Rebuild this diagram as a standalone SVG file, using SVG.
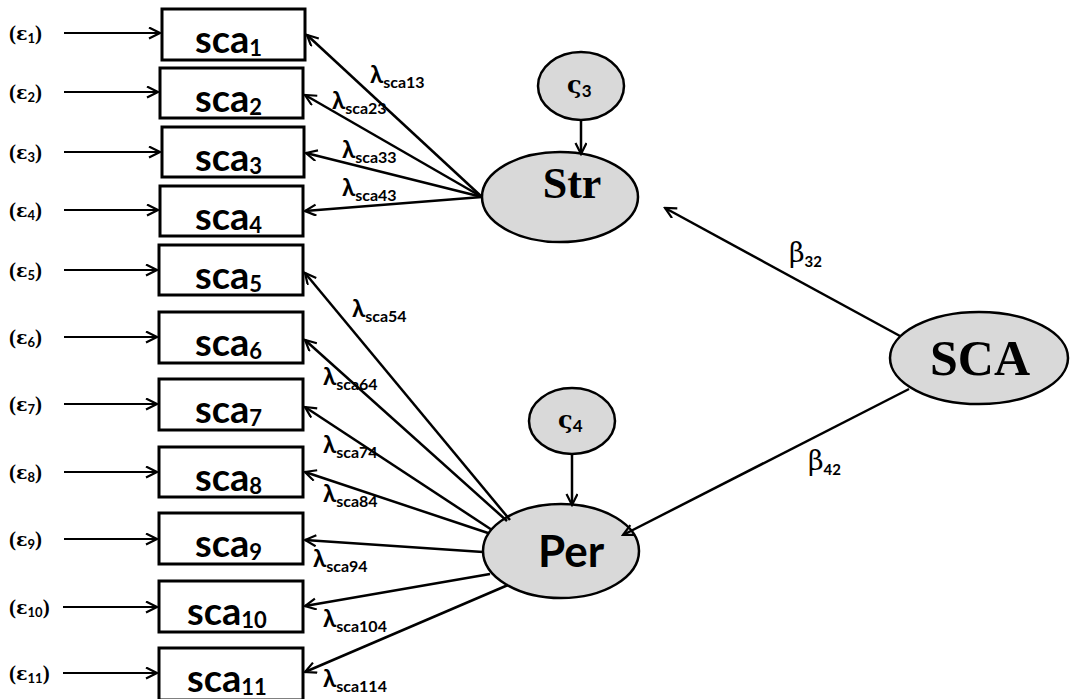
<svg xmlns="http://www.w3.org/2000/svg" width="1070" height="699" viewBox="0 0 1070 699">
  <style>
    .box { fill: #ffffff; stroke: #000; stroke-width: 3; }
    .latent { fill: #d9d9d9; stroke: #000; stroke-width: 2.5; }
    .edge { stroke: #000; stroke-width: 2.5; fill: none; marker-end: url(#arrow); }
    .err { stroke: #000; stroke-width: 2; fill: none; marker-end: url(#arrow); }
    .sans { font-family: Lato, "DejaVu Sans", sans-serif; font-weight: bold; fill: #000; }
    .serif { font-family: "Liberation Serif", "DejaVu Serif", serif; font-weight: bold; fill: #000; }
    .greek { font-family: "DejaVu Serif", serif; font-weight: normal; }
    .greekb { font-family: "DejaVu Serif", serif; font-weight: bold; }
    .ind { font-size: 38px; }
    .lam { font-size: 24px; }
    .eps { font-size: 21px; }
    .epsym { font-family: "DejaVu Serif", serif; font-size: 19px; }
    .epsub { font-family: Lato, "DejaVu Sans", sans-serif; font-size: 13px; }
  </style>
  <defs>
    <marker id="arrow" markerUnits="userSpaceOnUse" markerWidth="14" markerHeight="14" refX="12" refY="6" orient="auto">
      <path d="M1,0.5 L12,6 L1,11.5" fill="none" stroke="#000" stroke-width="2.2"/>
    </marker>
  </defs>
  <rect width="1070" height="699" fill="#ffffff"/>

  <!-- error terms -->
  <g id="errors">
    <text class="serif eps" x="9" y="40">(<tspan class="epsym">ε</tspan><tspan class="epsub" dy="3">1</tspan><tspan dy="-3">)</tspan></text>
    <text class="serif eps" x="9" y="99">(<tspan class="epsym">ε</tspan><tspan class="epsub" dy="3">2</tspan><tspan dy="-3">)</tspan></text>
    <text class="serif eps" x="9" y="159">(<tspan class="epsym">ε</tspan><tspan class="epsub" dy="3">3</tspan><tspan dy="-3">)</tspan></text>
    <text class="serif eps" x="9" y="217">(<tspan class="epsym">ε</tspan><tspan class="epsub" dy="3">4</tspan><tspan dy="-3">)</tspan></text>
    <text class="serif eps" x="9" y="277">(<tspan class="epsym">ε</tspan><tspan class="epsub" dy="3">5</tspan><tspan dy="-3">)</tspan></text>
    <text class="serif eps" x="9" y="344">(<tspan class="epsym">ε</tspan><tspan class="epsub" dy="3">6</tspan><tspan dy="-3">)</tspan></text>
    <text class="serif eps" x="9" y="411">(<tspan class="epsym">ε</tspan><tspan class="epsub" dy="3">7</tspan><tspan dy="-3">)</tspan></text>
    <text class="serif eps" x="9" y="479">(<tspan class="epsym">ε</tspan><tspan class="epsub" dy="3">8</tspan><tspan dy="-3">)</tspan></text>
    <text class="serif eps" x="9" y="546">(<tspan class="epsym">ε</tspan><tspan class="epsub" dy="3">9</tspan><tspan dy="-3">)</tspan></text>
    <text class="serif eps" x="9" y="614">(<tspan class="epsym">ε</tspan><tspan class="epsub" dy="3">10</tspan><tspan dy="-3">)</tspan></text>
    <text class="serif eps" x="9" y="680">(<tspan class="epsym">ε</tspan><tspan class="epsub" dy="3">11</tspan><tspan dy="-3">)</tspan></text>
  </g>

  <!-- observed indicators -->
  <g id="sca1"><rect class="box" x="162" y="9" width="143" height="51"/><text class="sans ind" x="195" y="53">sca<tspan font-size="22" dy="3">1</tspan></text></g>
  <g id="sca2"><rect class="box" x="160" y="68" width="143" height="50"/><text class="sans ind" x="195" y="112">sca<tspan font-size="22" dy="3">2</tspan></text></g>
  <g id="sca3"><rect class="box" x="162" y="127" width="142" height="50"/><text class="sans ind" x="195" y="171">sca<tspan font-size="22" dy="3">3</tspan></text></g>
  <g id="sca4"><rect class="box" x="160" y="186" width="143" height="50"/><text class="sans ind" x="195" y="230">sca<tspan font-size="22" dy="3">4</tspan></text></g>
  <g id="sca5"><rect class="box" x="159" y="245" width="144" height="50"/><text class="sans ind" x="195" y="289">sca<tspan font-size="22" dy="3">5</tspan></text></g>
  <g id="sca6"><rect class="box" x="159" y="312" width="144" height="51"/><text class="sans ind" x="195" y="356">sca<tspan font-size="22" dy="3">6</tspan></text></g>
  <g id="sca7"><rect class="box" x="159" y="379" width="144" height="51"/><text class="sans ind" x="195" y="423">sca<tspan font-size="22" dy="3">7</tspan></text></g>
  <g id="sca8"><rect class="box" x="159" y="447" width="144" height="50"/><text class="sans ind" x="195" y="491">sca<tspan font-size="22" dy="3">8</tspan></text></g>
  <g id="sca9"><rect class="box" x="159" y="513" width="144" height="51"/><text class="sans ind" x="195" y="557">sca<tspan font-size="22" dy="3">9</tspan></text></g>
  <g id="sca10"><rect class="box" x="159" y="581" width="144" height="51"/><text class="sans ind" x="187" y="625">sca<tspan font-size="22" dy="3">10</tspan></text></g>
  <g id="sca11"><rect class="box" x="159" y="648" width="144" height="52"/><text class="sans ind" x="187" y="692">sca<tspan font-size="22" dy="3">11</tspan></text></g>

  <!-- latent variables and disturbances -->
  <g id="zeta3"><ellipse class="latent" cx="581" cy="86" rx="43" ry="34"/><text class="sans" x="567" y="93"><tspan class="greekb" font-size="24">ς</tspan><tspan font-size="17" dy="4">3</tspan></text></g>
  <g id="Str"><ellipse class="latent" cx="560" cy="197" rx="78" ry="45"/><text class="serif" font-size="44" x="572" y="198" text-anchor="middle">Str</text></g>
  <g id="zeta4"><ellipse class="latent" cx="572" cy="421" rx="43" ry="33"/><text class="sans" x="558" y="428"><tspan class="greekb" font-size="24">ς</tspan><tspan font-size="17" dy="4">4</tspan></text></g>
  <g id="Per"><ellipse class="latent" cx="561" cy="551" rx="78" ry="47"/><text class="sans" font-size="44" x="571" y="567" text-anchor="middle">Per</text></g>
  <g id="SCA"><ellipse class="latent" cx="979" cy="358" rx="89" ry="46"/><text class="serif" font-size="50" x="980" y="375" text-anchor="middle">SCA</text></g>

  <!-- connectors -->
  <g id="connectors">
    <line class="err" x1="64" y1="33" x2="160" y2="33"/>
    <line class="err" x1="64" y1="92" x2="158" y2="92"/>
    <line class="err" x1="64" y1="152" x2="160" y2="152"/>
    <line class="err" x1="64" y1="210" x2="158" y2="210"/>
    <line class="err" x1="64" y1="270" x2="157" y2="270"/>
    <line class="err" x1="64" y1="337" x2="157" y2="337"/>
    <line class="err" x1="64" y1="404" x2="157" y2="404"/>
    <line class="err" x1="64" y1="472" x2="157" y2="472"/>
    <line class="err" x1="64" y1="539" x2="157" y2="539"/>
    <line class="err" x1="63" y1="607" x2="157" y2="607"/>
    <line class="err" x1="63" y1="673" x2="157" y2="673"/>

    <line class="edge" x1="482" y1="197" x2="307" y2="35"/>
    <line class="edge" x1="482" y1="197" x2="305" y2="95"/>
    <line class="edge" x1="482" y1="197" x2="306" y2="153"/>
    <line class="edge" x1="482" y1="197" x2="305" y2="211"/>

    <line class="edge" x1="510" y1="520" x2="305" y2="273"/>
    <line class="edge" x1="507" y1="521" x2="305" y2="340"/>
    <line class="edge" x1="492" y1="530" x2="305" y2="407"/>
    <line class="edge" x1="488" y1="533" x2="305" y2="472"/>
    <line class="edge" x1="483" y1="552" x2="305" y2="540"/>
    <line class="edge" x1="490" y1="574" x2="305" y2="606"/>
    <line class="edge" x1="508" y1="585" x2="305" y2="672"/>

    <line class="edge" x1="581" y1="120" x2="581" y2="154"/>
    <line class="edge" x1="572" y1="454" x2="572" y2="505"/>

    <line class="edge" x1="900" y1="336" x2="665" y2="208"/>
    <line class="edge" x1="909" y1="389" x2="623" y2="535"/>
  </g>

  <!-- path coefficients -->
  <g id="labels">
    <text class="sans lam" x="370" y="83">λ<tspan font-size="16" dy="5">sca13</tspan></text>
    <text class="sans lam" x="332" y="109">λ<tspan font-size="16" dy="5">sca23</tspan></text>
    <text class="sans lam" x="342" y="158">λ<tspan font-size="16" dy="5">sca33</tspan></text>
    <text class="sans lam" x="342" y="196">λ<tspan font-size="16" dy="5">sca43</tspan></text>
    <text class="sans lam" x="352" y="317">λ<tspan font-size="16" dy="5">sca54</tspan></text>
    <text class="sans lam" x="323" y="385">λ<tspan font-size="16" dy="5">sca64</tspan></text>
    <text class="sans lam" x="323" y="453">λ<tspan font-size="16" dy="5">sca74</tspan></text>
    <text class="sans lam" x="323" y="502">λ<tspan font-size="16" dy="5">sca84</tspan></text>
    <text class="sans lam" x="313" y="567">λ<tspan font-size="16" dy="5">sca94</tspan></text>
    <text class="sans lam" x="323" y="627">λ<tspan font-size="16" dy="5">sca104</tspan></text>
    <text class="sans lam" x="323" y="687">λ<tspan font-size="16" dy="5">sca114</tspan></text>
    <text class="sans" x="789" y="262"><tspan class="greek" font-size="27">β</tspan><tspan font-size="15" dy="5">32</tspan></text>
    <text class="sans" x="808" y="470"><tspan class="greek" font-size="27">β</tspan><tspan font-size="15" dy="5">42</tspan></text>
  </g>
</svg>
